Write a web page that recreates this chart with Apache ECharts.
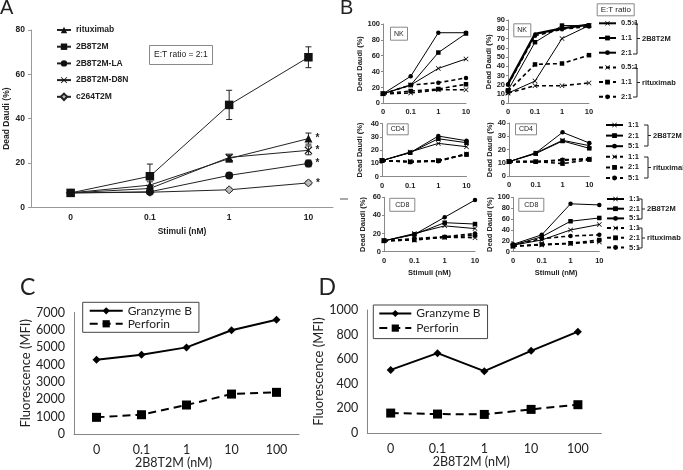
<!DOCTYPE html>
<html><head><meta charset="utf-8">
<script src="https://cdn.jsdelivr.net/npm/echarts@6/dist/echarts.min.js"></script>
<style>html,body{margin:0;padding:0;background:#fff}#c{width:683px;height:470px}</style>
</head><body><div id="c"></div><script>
// ---------- Panel A ----------
const catsA = ['0', '0.1', '1', '10'];
const rituximabA = [6.5, 10, 22, 31];
const t2mA = [6.5, 14, 46.2, 67.7];
const laA = [6.5, 7, 14.4, 19.8];
const d8nA = [6.5, 8.5, 22.5, 25.7];
const c264A = [6.5, 6.8, 7.9, 11];
const rituximabErrA = [0.4, 1.5, 1.5, 2.5];
const t2mErrA = [0.4, 5.5, 6.6, 4.7];
const laErrA = [0.3, 0.5, 1, 1.5];
const d8nErrA = [0.4, 1, 1.5, 2];
const c264ErrA = [0.3, 0.3, 0.7, 0.8];

// ---------- Panel B ----------
const catsB = ['0', '0.1', '1', '10'];
// NK left
const nkL_t05 = [12, 23, 44, 56];
const nkL_t1 = [12, 23, 64, 88];
const nkL_t2 = [12, 34, 89, 89];
const nkL_r05 = [12, 13, 17, 17];
const nkL_r1 = [12, 15.5, 18, 24];
const nkL_r2 = [12, 23, 26, 32];
// NK right
const nkR_t05 = [11, 24, 70, 84];
const nkR_t1 = [14, 66, 84, 84];
const nkR_t2 = [21, 75, 81, 85];
const nkR_r05 = [11, 19, 19, 22];
const nkR_r1 = [13, 42, 43, 52];
const nkR_r2 = [20, 73, 80, 83];
// CD4 left
const cd4L_t1 = [12, 18.5, 25, 22.5];
const cd4L_t2 = [12, 18, 28.5, 25.5];
const cd4L_t5 = [12, 18, 30.5, 27];
const cd4L_r1 = [12, 11.5, 12, 17];
const cd4L_r2 = [12, 11, 12, 16.5];
const cd4L_r5 = [12, 11, 11.5, 17];
// CD4 right
const cd4R_t1 = [11, 17.5, 27, 23];
const cd4R_t2 = [11, 17, 26.5, 21];
const cd4R_t5 = [11, 17.5, 33, 25];
const cd4R_r1 = [11, 11, 12, 13];
const cd4R_r2 = [11, 11, 9.5, 12.5];
const cd4R_r5 = [11, 11, 12.5, 13];
// CD8 left
const cd8L_t1 = [12, 20, 28.5, 25.5];
const cd8L_t2 = [12, 19, 32, 30.5];
const cd8L_t5 = [12, 19, 38, 57];
const cd8L_r1 = [12, 13, 16, 15.5];
const cd8L_r2 = [12, 13, 16, 18];
const cd8L_r5 = [12, 14.5, 16.5, 20];
// CD8 right
const cd8R_t1 = [12, 21.5, 40, 50];
const cd8R_t2 = [12, 27.5, 56, 62];
const cd8R_t5 = [13.5, 31, 88, 86];
const cd8R_r1 = [10, 12.5, 15, 18];
const cd8R_r2 = [10, 13.5, 15.5, 21.5];
const cd8R_r5 = [12, 24, 29, 31];

// ---------- Panels C / D ----------
const catsCD = ['0', '0.1', '1', '10', '100'];
const gzbC = [4280, 4560, 4990, 5980, 6580];
const perfC = [960, 1110, 1670, 2300, 2400];
const gzbD = [513, 649, 503, 668, 824];
const perfD = [162, 154, 151, 192, 230];

const AF = '"Liberation Sans", Arial, sans-serif';
const CF = 'Lato, "Open Sans", sans-serif';
const SYM_X = 'path://M0,1 L1,0 L5,4 L9,0 L10,1 L6,5 L10,9 L9,10 L5,6 L1,10 L0,9 L4,5 Z';

const grids = [
  {left: 31, top: 30, width: 302, height: 177.3},      // 0 A
  {left: 383, top: 24, width: 83, height: 79.3},       // 1 NK L
  {left: 508, top: 20, width: 81, height: 83.3},       // 2 NK R
  {left: 382, top: 123.5, width: 84.5, height: 53},    // 3 CD4 L
  {left: 509, top: 123, width: 80.3, height: 53.3},    // 4 CD4 R
  {left: 384, top: 197.3, width: 91, height: 54.4},    // 5 CD8 L
  {left: 513, top: 197.3, width: 86.3, height: 54.4},  // 6 CD8 R
  {left: 74, top: 312.5, width: 225, height: 121.5},   // 7 C
  {left: 367.3, top: 310, width: 234, height: 123}     // 8 D
].map(g => Object.assign({containLabel: false, outerBoundsMode: 'none'}, g));

const xAxes = [];
const yAxes = [];
// A
xAxes.push({gridIndex: 0, type: 'value', min: -0.5, max: 3.31,
  axisLine: {show: true, onZero: false, lineStyle: {color: '#999'}}, axisTick: {show: false}, splitLine: {show: false},
  axisLabel: {customValues: [0, 1, 2, 3], formatter: v => catsA[Math.round(v)], fontFamily: AF, fontSize: 8.5, fontWeight: 'bold', color: '#222', margin: 6},
  name: 'Stimuli (nM)', nameLocation: 'middle', nameGap: 20, nameTextStyle: {fontFamily: AF, fontSize: 8.5, fontWeight: 'bold', color: '#222'}});
yAxes.push({gridIndex: 0, type: 'value', min: 0, max: 80, interval: 20,
  axisLine: {show: true, onZero: false, lineStyle: {color: '#999'}}, axisTick: {show: true, length: 3, lineStyle: {color: '#999'}}, splitLine: {show: false},
  axisLabel: {fontFamily: AF, fontSize: 8.5, fontWeight: 'bold', color: '#222', margin: 6},
  name: 'Dead Daudi (%)', nameLocation: 'middle', nameGap: 19, nameTextStyle: {fontFamily: AF, fontSize: 8.5, fontWeight: 'bold', color: '#222'}});

// B
const bYCfg = [
  {max: 100, interval: 20, gap: 18}, {max: 90, interval: 10, gap: 11},
  {max: 40, interval: 10, gap: 18}, {max: 40, interval: 10, gap: 12},
  {max: 60, interval: 20, gap: 17}, {max: 100, interval: 20, gap: 14}
];
bYCfg.forEach((c, k) => {
  const gi = k + 1;
  const bottomRow = gi >= 5;
  xAxes.push({gridIndex: gi, type: 'category', data: catsB, boundaryGap: false,
    axisLine: {show: true, lineStyle: {color: '#888'}}, axisTick: {show: false}, splitLine: {show: false},
    axisLabel: {fontFamily: AF, fontSize: 7.5, fontWeight: 'bold', color: '#222', margin: 5, interval: 0},
    name: bottomRow ? 'Stimuli (nM)' : '', nameLocation: 'middle', nameGap: 17,
    nameTextStyle: {fontFamily: AF, fontSize: 7.5, fontWeight: 'bold', color: '#222'}});
  yAxes.push({gridIndex: gi, type: 'value', min: 0, max: c.max, interval: c.interval,
    axisLine: {show: true, lineStyle: {color: '#888'}}, axisTick: {show: true, length: 2, lineStyle: {color: '#888'}}, splitLine: {show: false},
    axisLabel: {fontFamily: AF, fontSize: 7.5, fontWeight: 'bold', color: '#222', margin: 3},
    name: 'Dead Daudi (%)', nameLocation: 'middle', nameGap: c.gap,
    nameTextStyle: {fontFamily: AF, fontSize: 7.5, fontWeight: 'bold', color: '#222'}});
});

// C, D
[[7, 7000, 1000, 39], [8, 1000, 200, 33]].forEach(([gi, max, itv, gap]) => {
  xAxes.push({gridIndex: gi, type: 'category', data: catsCD, boundaryGap: true,
    axisLine: {show: true, lineStyle: {color: '#868686'}}, axisTick: {show: false}, splitLine: {show: false},
    axisLabel: {fontFamily: CF, fontSize: 12.5, color: '#222', margin: 9, interval: 0},
    name: '2B8T2M (nM)', nameLocation: 'middle', nameGap: 21,
    nameTextStyle: {fontFamily: CF, fontSize: 12.5, color: '#222', padding: [0, 26, 0, 0]}});
  yAxes.push({gridIndex: gi, type: 'value', min: 0, max: max, interval: itv,
    axisLine: {show: true, lineStyle: {color: '#868686'}}, axisTick: {show: false}, splitLine: {show: false},
    axisLabel: {fontFamily: CF, fontSize: 12.5, color: '#222', margin: 9, formatter: v => String(v)},
    name: 'Fluorescence (MFI)', nameLocation: 'middle', nameGap: gap,
    nameTextStyle: {fontFamily: CF, fontSize: 13, color: '#222'}});
});

// ---------- series ----------
const series = [];
function errSeries(vals, errs) {
  return {type: 'custom', xAxisIndex: 0, yAxisIndex: 0, silent: true, z: 1,
    data: vals.map((v, i) => [i, v, errs[i]]),
    renderItem(params, api) {
      const x = api.value(0), v = api.value(1), e = api.value(2);
      const t = api.coord([x, v + e]), b = api.coord([x, v - e]);
      const w = 3, st = {stroke: '#222', lineWidth: 1};
      return {type: 'group', children: [
        {type: 'line', shape: {x1: t[0], y1: t[1], x2: b[0], y2: b[1]}, style: st},
        {type: 'line', shape: {x1: t[0] - w, y1: t[1], x2: t[0] + w, y2: t[1]}, style: st},
        {type: 'line', shape: {x1: b[0] - w, y1: b[1], x2: b[0] + w, y2: b[1]}, style: st}
      ]};
    }};
}
function aLine(name, vals, symbol, size, star, item) {
  return {type: 'line', name, xAxisIndex: 0, yAxisIndex: 0, symbol, symbolSize: size, z: 3,
    data: vals.map((v, i) => (star && i === vals.length - 1) ?
      {value: [i, v], label: {show: true, formatter: '*', position: 'right', distance: 3, fontFamily: AF, fontSize: 10, fontWeight: 'bold', color: '#222'}} : [i, v]),
    lineStyle: {color: '#222', width: 1}, itemStyle: Object.assign({color: '#111'}, item || {})};
}
series.push(errSeries(rituximabA, rituximabErrA), errSeries(t2mA, t2mErrA), errSeries(laA, laErrA), errSeries(d8nA, d8nErrA), errSeries(c264A, c264ErrA));
series.push(aLine('c264T2M', c264A, 'diamond', 8, true, {color: '#bbb', borderColor: '#222', borderWidth: 1}));
series.push(aLine('2B8T2M-LA', laA, 'circle', 8, true));
series.push(aLine('2B8T2M-D8N', d8nA, SYM_X, 8, true));
series.push(aLine('rituximab', rituximabA, 'triangle', 8, true));
series.push(aLine('2B8T2M', t2mA, 'rect', 8.5, false));

function bLine(name, data, gi, dashed, sym, size, lw) {
  return {type: 'line', name, xAxisIndex: gi, yAxisIndex: gi, data, symbol: sym, symbolSize: size || (sym === SYM_X ? 5 : 4.5),
    lineStyle: {color: '#000', width: lw || (dashed ? 1.6 : 1), type: dashed ? [4, 3] : 'solid'},
    itemStyle: {color: '#000'}, z: 3};
}
// NK right first (legend icons)
series.push(bLine('NK|t|0.5:1', nkR_t05, 2, false, SYM_X));
series.push(bLine('NK|t|1:1', nkR_t1, 2, false, 'rect'));
series.push(bLine('NK|t|2:1', nkR_t2, 2, false, 'circle', 3.5, 2.2));
series.push(bLine('NK|r|0.5:1', nkR_r05, 2, true, SYM_X));
series.push(bLine('NK|r|1:1', nkR_r1, 2, true, 'rect'));
series.push(bLine('NK|r|2:1', nkR_r2, 2, true, 'circle'));
series.push(bLine('NK|t|0.5:1', nkL_t05, 1, false, SYM_X));
series.push(bLine('NK|t|1:1', nkL_t1, 1, false, 'rect'));
series.push(bLine('NKL|t|2:1', nkL_t2, 1, false, 'circle'));
series.push(bLine('NK|r|0.5:1', nkL_r05, 1, true, SYM_X));
series.push(bLine('NK|r|1:1', nkL_r1, 1, true, 'rect'));
series.push(bLine('NK|r|2:1', nkL_r2, 1, true, 'circle'));
[[4, [cd4R_t1, cd4R_t2, cd4R_t5, cd4R_r1, cd4R_r2, cd4R_r5]],
 [3, [cd4L_t1, cd4L_t2, cd4L_t5, cd4L_r1, cd4L_r2, cd4L_r5]],
 [6, [cd8R_t1, cd8R_t2, cd8R_t5, cd8R_r1, cd8R_r2, cd8R_r5]],
 [5, [cd8L_t1, cd8L_t2, cd8L_t5, cd8L_r1, cd8L_r2, cd8L_r5]]].forEach(([gi, arr]) => {
  series.push(bLine('CD|t|1:1', arr[0], gi, false, SYM_X));
  series.push(bLine('CD|t|2:1', arr[1], gi, false, 'rect'));
  series.push(bLine('CD|t|5:1', arr[2], gi, false, 'circle'));
  series.push(bLine('CD|r|1:1', arr[3], gi, true, SYM_X));
  series.push(bLine('CD|r|2:1', arr[4], gi, true, 'rect'));
  series.push(bLine('CD|r|5:1', arr[5], gi, true, 'circle'));
});

[[7, gzbC, perfC], [8, gzbD, perfD]].forEach(([gi, g, p]) => {
  series.push({type: 'line', name: 'Granzyme B', xAxisIndex: gi, yAxisIndex: gi, data: g, symbol: 'diamond', symbolSize: 8,
    lineStyle: {color: '#000', width: 2}, itemStyle: {color: '#000'}});
  series.push({type: 'line', name: 'Perforin', xAxisIndex: gi, yAxisIndex: gi, data: p, symbol: 'rect', symbolSize: 9,
    lineStyle: {color: '#000', width: 2, type: [8, 5]}, itemStyle: {color: '#000'}});
});

// ---------- legends ----------
const bLegText = {fontFamily: AF, fontSize: 7.5, fontWeight: 'bold', color: '#222', lineHeight: 8};
const fmtB = n => n.split('|')[2];
const legends = [
  {data: ['rituximab', '2B8T2M', '2B8T2M-LA', '2B8T2M-D8N', 'c264T2M'], orient: 'vertical', left: 56, top: 25, padding: 0,
   itemWidth: 14, itemHeight: 8, itemGap: 6.7, selectedMode: false,
   textStyle: {fontFamily: AF, fontSize: 8.5, fontWeight: 'bold', color: '#222', lineHeight: 10}},
  {data: ['NK|t|0.5:1', 'NK|t|1:1', 'NK|t|2:1', 'NK|r|0.5:1', 'NK|r|1:1', 'NK|r|2:1'], orient: 'vertical', left: 598, top: 19.3, padding: 0,
   itemWidth: 17, itemHeight: 6, itemGap: 6.7, selectedMode: false, formatter: fmtB, textStyle: bLegText},
  {data: ['CD|t|1:1', 'CD|t|2:1', 'CD|t|5:1', 'CD|r|1:1', 'CD|r|2:1', 'CD|r|5:1'], orient: 'vertical', left: 605, top: 121, padding: 0,
   itemWidth: 17, itemHeight: 6, itemGap: 2.6, selectedMode: false, formatter: fmtB, textStyle: bLegText},
  {data: ['CD|t|1:1', 'CD|t|2:1', 'CD|t|5:1', 'CD|r|1:1', 'CD|r|2:1', 'CD|r|5:1'], orient: 'vertical', left: 606, top: 195, padding: 0,
   itemWidth: 17, itemHeight: 6, itemGap: 1.7, selectedMode: false, formatter: fmtB, textStyle: bLegText},
  {data: ['Granzyme B', 'Perforin'], orient: 'vertical', left: 82.7, top: 302.3, padding: [2, 7, 2, 6], borderColor: '#444', borderWidth: 1,
   itemWidth: 33, itemHeight: 9, itemGap: 0, selectedMode: false, textStyle: {fontFamily: CF, fontSize: 12, color: '#222', lineHeight: 13}},
  {data: ['Granzyme B', 'Perforin'], orient: 'vertical', left: 373.3, top: 305, padding: [2, 7, 4, 5], borderColor: '#444', borderWidth: 1,
   itemWidth: 32, itemHeight: 9, itemGap: 1.6, selectedMode: false, textStyle: {fontFamily: CF, fontSize: 12, color: '#222', lineHeight: 13}}
];

// ---------- titles (panel letters, boxed labels) ----------
function boxT(text, left, top, fs, pad) {
  return {text, left, top, padding: pad, borderColor: '#888', borderWidth: 1,
    textStyle: {fontFamily: AF, fontSize: fs, fontWeight: 'normal', color: '#222', lineHeight: fs + 1}};
}
const titles = [
  {text: 'A', left: 0, top: -2, padding: 0, textStyle: {fontFamily: AF, fontSize: 20, fontWeight: 'normal', color: '#222', lineHeight: 20}},
  {text: 'B', left: 340, top: -2, padding: 0, textStyle: {fontFamily: AF, fontSize: 20, fontWeight: 'normal', color: '#222', lineHeight: 20}},
  {text: 'C', left: 20, top: 276, padding: 0, textStyle: {fontFamily: CF, fontSize: 23, fontWeight: 'normal', color: '#222', lineHeight: 23}},
  {text: 'D', left: 318.5, top: 276, padding: 0, textStyle: {fontFamily: CF, fontSize: 23, fontWeight: 'normal', color: '#222', lineHeight: 23}},
  boxT('E:T ratio = 2:1', 149, 45, 8.5, [5, 5]),
  boxT('E:T ratio', 596.7, 3.3, 8, [2, 4]),
  boxT('NK', 390, 26.7, 7, [3, 4]),
  boxT('NK', 513.3, 23.3, 7, [3, 4]),
  boxT('CD4', 386.7, 123.3, 7, [2, 4]),
  boxT('CD4', 515, 123.3, 7, [2, 4]),
  boxT('CD8', 389.3, 198.3, 7, [2.5, 6]),
  boxT('CD8', 518.3, 198.3, 7, [2.5, 6])
];

// ---------- brackets ----------
function bracket(x, y1, y2, label) {
  const ym = (y1 + y2) / 2;
  return [
    {type: 'polyline', shape: {points: [[x - 4, y1], [x, y1], [x, y2], [x - 4, y2]]}, style: {stroke: '#222', lineWidth: 1, fill: null}},
    {type: 'line', shape: {x1: x, y1: ym, x2: x + 3, y2: ym}, style: {stroke: '#222', lineWidth: 1}},
    {type: 'text', x: x + 5, y: ym, style: {text: label, font: 'bold 7.5px "Liberation Sans", Arial', fill: '#222', verticalAlign: 'middle'}}
  ];
}
const graphics = [].concat(
  bracket(637, 23, 54, '2B8T2M'), bracket(637, 68, 97, 'rituximab'),
  bracket(648, 125, 146, '2B8T2M'), bracket(648, 157, 178, 'rituximab'),
  bracket(642, 199, 219, '2B8T2M'), bracket(642, 228, 248, 'rituximab'),
  [{type: 'line', shape: {x1: 340, y1: 199, x2: 348, y2: 199}, style: {stroke: '#555', lineWidth: 1}}]
);

const chart = echarts.init(document.getElementById('c'), null, {renderer: 'canvas'});
chart.setOption({
  animation: false,
  backgroundColor: '#fff',
  title: titles,
  legend: legends,
  grid: grids,
  xAxis: xAxes,
  yAxis: yAxes,
  series: series,
  graphic: graphics
});
</script></body></html>
